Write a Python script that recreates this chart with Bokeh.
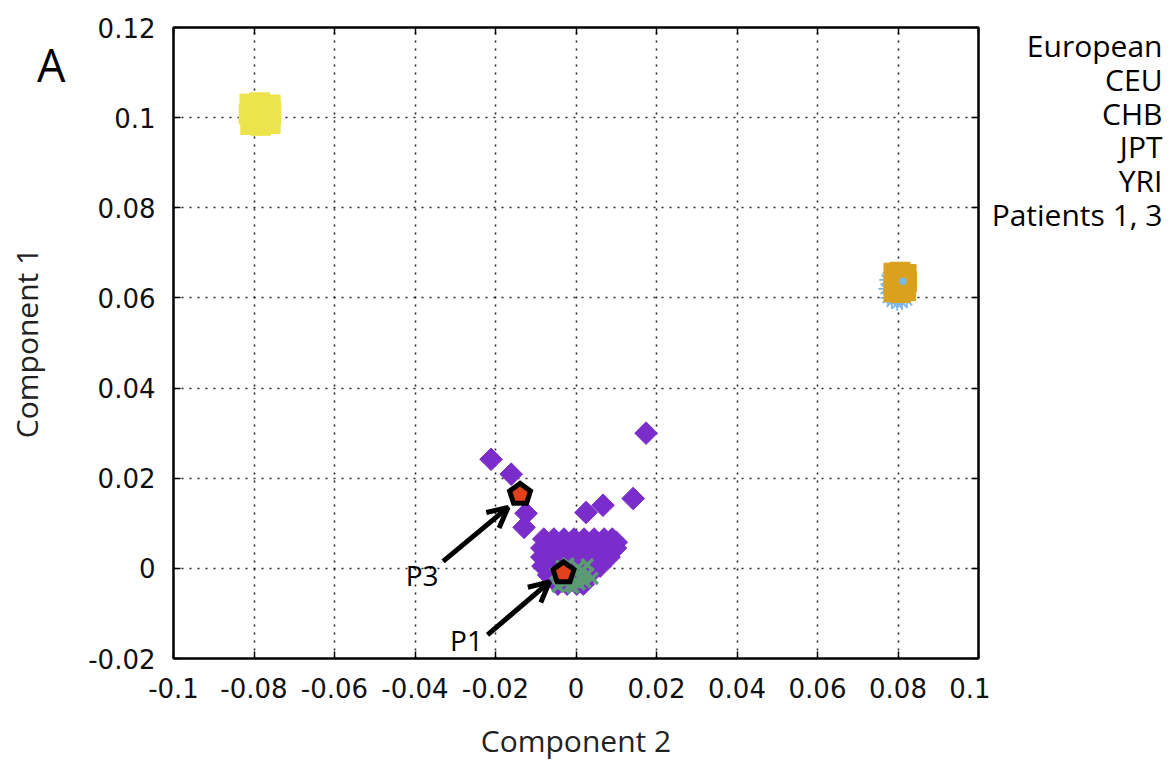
import math
from bokeh.plotting import figure
from bokeh.layouts import row
from bokeh.models import Range1d, FixedTicker, LinearAxis, Label, Arrow, OpenHead
from bokeh.core.properties import value
from bokeh.embed import file_html
from bokeh.resources import INLINE

# ---------------- data ----------------
x_ticks = [-0.1, -0.08, -0.06, -0.04, -0.02, 0.0, 0.02, 0.04, 0.06, 0.08, 0.1]
x_tick_labels = ["-0.1", "-0.08", "-0.06", "-0.04", "-0.02", "0", "0.02", "0.04", "0.06", "0.08", "0.1"]
y_ticks = [-0.02, 0.0, 0.02, 0.04, 0.06, 0.08, 0.1, 0.12]
y_tick_labels = ["-0.02", "0", "0.02", "0.04", "0.06", "0.08", "0.1", "0.12"]

legend_labels = ["European", "CEU", "CHB", "JPT", "YRI", "Patients 1, 3"]

european_x = [-0.0080, -0.0055, -0.0030, -0.0005, 0.0020, 0.0045, 0.0070, 0.0090, 0.0100,
              -0.0085, -0.0060, -0.0035, -0.0010, 0.0015, 0.0040, 0.0065, 0.0098,
              -0.0085, -0.0060, -0.0035, -0.0010, 0.0015, 0.0040, 0.0065, 0.0082,
              -0.0082, -0.0058, -0.0032, -0.0008, 0.0018, 0.0042, 0.0060,
              -0.0068, -0.0042, -0.0018, 0.0008, 0.0032,
              -0.0045, -0.0022, 0.0002, 0.0018,
              -0.0211, -0.0161, -0.0124, -0.0129, 0.0025, 0.0067, 0.0142, 0.0174]
european_y = [0.0065, 0.0065, 0.0065, 0.0065, 0.0065, 0.0065, 0.0065, 0.0065, 0.0058,
              0.0045, 0.0045, 0.0045, 0.0045, 0.0045, 0.0045, 0.0045, 0.0045,
              0.0025, 0.0025, 0.0025, 0.0025, 0.0025, 0.0025, 0.0025, 0.0025,
              0.0005, 0.0005, 0.0005, 0.0005, 0.0005, 0.0005, 0.0005,
              -0.0015, -0.0015, -0.0015, -0.0015, -0.0015,
              -0.0035, -0.0035, -0.0035, -0.0035,
              0.0242, 0.0209, 0.0122, 0.0091, 0.0124, 0.0140, 0.0155, 0.0300]

ceu_x = [-0.0050, -0.0040, -0.0028, -0.0015, -0.0005, 0.0008, 0.0018, 0.0030, 0.0040,
         -0.0035, -0.0020, -0.0008, 0.0005, 0.0015, 0.0028, -0.0045, -0.0010, 0.0022]
ceu_y = [-0.0012, -0.0025, -0.0032, -0.0038, -0.0030, -0.0035, -0.0020, -0.0012, -0.0022,
         0.0005, 0.0010, -0.0042, 0.0002, -0.0005, 0.0008, -0.0040, -0.0018, -0.0030]

chb_x = [0.0772, 0.0770, 0.0775, 0.0785, 0.0798, 0.0810, 0.0822, 0.0790, 0.0805, 0.0780]
chb_y = [0.0640, 0.0620, 0.0600, 0.0592, 0.0588, 0.0590, 0.0595, 0.0615, 0.0625, 0.0655]
chb_front_x = [0.0812]
chb_front_y = [0.0637]

jpt_x = [0.0790, 0.0805, 0.0820, 0.0792, 0.0808, 0.0821, 0.0790, 0.0806, 0.0819]
jpt_y = [0.0655, 0.0657, 0.0652, 0.0635, 0.0633, 0.0636, 0.0614, 0.0612, 0.0616]

yri_x = [-0.0810, -0.0786, -0.0760, -0.0812, -0.0785, -0.0758, -0.0808, -0.0784, -0.0760]
yri_y = [0.1030, 0.1033, 0.1028, 0.1008, 0.1007, 0.1010, 0.0985, 0.0983, 0.0987]

patient_x = [-0.0031, -0.0139]
patient_y = [-0.0010, 0.0164]
patient_labels = ["P1", "P3"]

# ---------------- layout / style ----------------
W, H = 1172, 760
FW, FH = 805, 631
LEFT, TOP, BOTTOM, RIGHT = 173, 27, 102, 12
X0, X1, Y0, Y1 = -0.1, 0.1, -0.02, 0.12
KX = FW / (X1 - X0)   # px per data unit
KY = FH / (Y1 - Y0)

TICK_FONT = "DejaVu Sans"
TEXT_FONT = "Open Sans"

p = figure(frame_width=FW, frame_height=FH,
           min_border_left=LEFT, min_border_right=RIGHT, min_border_top=TOP, min_border_bottom=BOTTOM,
           x_range=Range1d(X0, X1), y_range=Range1d(Y0, Y1),
           output_backend="svg", toolbar_location=None,
           background_fill_color="white", border_fill_color="white")

p.outline_line_color = "black"
p.outline_line_width = 2

xt = FixedTicker(ticks=x_ticks)
yt = FixedTicker(ticks=y_ticks)
p.xaxis.ticker = xt
p.yaxis.ticker = yt
p.xaxis.major_label_overrides = {t: l for t, l in zip(x_ticks, x_tick_labels)}
p.yaxis.major_label_overrides = {t: l for t, l in zip(y_ticks, y_tick_labels)}

for ax in (p.xaxis[0], p.yaxis[0]):
    ax.axis_line_color = "black"
    ax.axis_line_width = 2
    ax.major_tick_in = 7
    ax.major_tick_out = 0
    ax.major_tick_line_width = 1.5
    ax.minor_tick_line_color = None
    ax.major_label_text_font = TICK_FONT
    ax.major_label_text_font_size = "26px"
    ax.major_label_text_color = "#111111"
    ax.axis_label_text_font = TEXT_FONT
    ax.axis_label_text_font_size = "30px"
    ax.axis_label_text_font_style = "normal"
    ax.axis_label_text_color = "#222222"

p.xaxis.axis_label = "Component 2"
p.xaxis.major_label_standoff = 19
p.xaxis.axis_label_standoff = 19
p.yaxis.major_label_standoff = 18

# mirror ticks on top and right (no labels)
for loc, tk in (("above", xt), ("right", yt)):
    ax = LinearAxis(ticker=tk, axis_line_color="black", axis_line_width=2,
                    major_tick_in=7, major_tick_out=0, major_tick_line_width=1.5,
                    minor_tick_line_color=None, major_label_text_font_size="0px",
                    major_label_text_alpha=0, major_label_standoff=0,
                    major_label_overrides={t: "" for t in tk.ticks})
    p.add_layout(ax, loc)

# outer left axis: carries the panel letter "A" and the y axis title
A_POS = Y1 - 37 / KY
a_axis = LinearAxis(ticker=FixedTicker(ticks=[A_POS]), major_label_overrides={A_POS: "A"},
                    axis_line_color=None, major_tick_line_color=None, minor_tick_line_color=None,
                    major_label_text_font=TEXT_FONT, major_label_text_font_size="45px",
                    major_label_text_color="black", major_label_standoff=14,
                    axis_label="Component 1", axis_label_text_font=TEXT_FONT,
                    axis_label_text_font_size="30px", axis_label_text_font_style="normal",
                    axis_label_text_color="#222222", axis_label_standoff=-13)
p.add_layout(a_axis, "left")

p.xgrid.ticker = xt
p.ygrid.ticker = yt
p.grid.grid_line_color = "black"
p.grid.grid_line_dash = "2 6"
p.grid.grid_line_width = 1.6
p.grid.grid_line_alpha = 0.85

# ---------------- marks ----------------
p.scatter(european_x, european_y, marker="square", angle=math.pi / 4, size=16,
          fill_color="#7a2dcb", line_color="#7a2dcb", line_width=1)
p.scatter(ceu_x, ceu_y, marker="x", size=16, line_color="#5b9b74", line_width=3.5)
p.scatter(chb_x, chb_y, marker="asterisk", size=15, line_color="#7eb6e6", line_width=1.8)
p.scatter(jpt_x, jpt_y, marker="square", size=20, fill_color="#d9a11d", line_color="#d9a11d")
p.scatter(chb_front_x, chb_front_y, marker="circle", size=7, fill_color="#7eb6e6", line_color="#7eb6e6")
p.scatter(yri_x, yri_y, marker="square", size=20, fill_color="#ede34c", line_color="#ede34c")

# patients as pentagons
R = 11.0
pent_xs, pent_ys = [], []
for px_, py_ in zip(patient_x, patient_y):
    xs, ys = [], []
    for k in range(5):
        a = math.radians(90 + 72 * k)
        xs.append(px_ + R * math.cos(a) / KX)
        ys.append(py_ + R * math.sin(a) / KY)
    pent_xs.append(xs)
    pent_ys.append(ys)
p.patches(pent_xs, pent_ys, fill_color="#e0401a", line_color="black", line_width=5, line_join="miter")

# arrows + labels (pixel offsets from each patient point)
arrow_offsets = {"P1": ((-76, -62), (-14, -9), (-97, -67)),
                 "P3": ((-77, -67), (-12, -13), (-98, -81))}
for px_, py_, lab in zip(patient_x, patient_y, patient_labels):
    (sx, sy), (tx, ty), (lx, ly) = arrow_offsets[lab]
    p.add_layout(Arrow(end=OpenHead(size=20, line_width=5, line_color="black"),
                       x_start=px_ + sx / KX, y_start=py_ + sy / KY,
                       x_end=px_ + tx / KX, y_end=py_ + ty / KY,
                       line_width=5, line_color="black"))
    p.add_layout(Label(x=px_, y=py_, x_offset=lx, y_offset=ly, text=lab,
                       text_font=TEXT_FONT, text_font_size="28px", text_color="black",
                       text_align="center", text_baseline="middle"))

# ---------------- legend panel (text only, right aligned) ----------------
LW = W - (LEFT + FW + RIGHT)
leg = figure(width=LW, height=H, x_range=Range1d(0, LW), y_range=p.y_range,
             min_border=0, output_backend="svg", toolbar_location=None,
             background_fill_color="white", border_fill_color="white")
leg.outline_line_color = None
leg.axis.visible = False
leg.grid.visible = False
leg_x = [LW - 10] * len(legend_labels)
leg_y = [Y1 - (18 + 34 * i) / KY for i in range(len(legend_labels))]
leg.text(leg_x, leg_y, text=legend_labels, text_align="right", text_baseline="middle",
         text_font=value(TEXT_FONT), text_font_size="30px", text_color="black")

layout = row(p, leg, spacing=0)
open("out.html", "w").write(file_html(layout, INLINE))
